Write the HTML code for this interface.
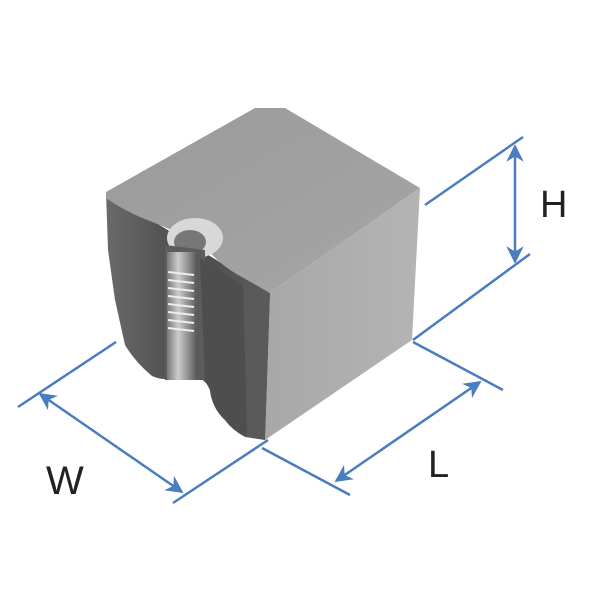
<!DOCTYPE html>
<html><head><style>
html,body{margin:0;padding:0;background:#fff;}
svg{display:block;}
text{font-family:"Liberation Sans",sans-serif;fill:#222;}
</style></head><body>
<svg width="600" height="600" viewBox="0 0 600 600">
<defs>
<linearGradient id="top" x1="0" y1="0" x2="1" y2="1">
<stop offset="0" stop-color="#9a9a9a"/><stop offset="1" stop-color="#a6a6a6"/></linearGradient>
<linearGradient id="right" x1="0" y1="0" x2="1" y2="0">
<stop offset="0" stop-color="#a8a8a8"/><stop offset="1" stop-color="#b4b4b4"/></linearGradient>
<linearGradient id="left" x1="0" y1="0" x2="1" y2="0">
<stop offset="0" stop-color="#6a6a6a"/><stop offset="0.5" stop-color="#4a4a4a"/><stop offset="1" stop-color="#5e5e5e"/></linearGradient>
<linearGradient id="coil" x1="0" y1="0" x2="1" y2="0">
<stop offset="0" stop-color="#777"/><stop offset="0.4" stop-color="#ccc"/><stop offset="1" stop-color="#666"/></linearGradient>
<marker id="ar" viewBox="0 0 10 10" refX="9" refY="5" markerWidth="7" markerHeight="7" orient="auto-start-reverse">
<path d="M0,0 L10,5 L0,10 L3,5 Z" fill="#4a7cc0"/></marker>
</defs>
<!-- left face -->
<path d="M106,192 L270,293 L265,440 L245,437 Q232,430 225,420 Q212,408 210,390 Q206,380 198,378 L175,378 Q163,381 152,376 Q135,362 125,345 L115,300 L108,250 Z" fill="url(#left)"/>
<!-- top face -->
<path d="M106,192 L255,108 L285,108 L420,188 L270,293 L240,276 Q215,262 205,245 L160,225 Q125,212 106,198 Z" fill="url(#top)"/>
<path d="M270,293 L420,188 L412,340 L265,440 Z" fill="url(#right)"/>
<path d="M243,285 L270,293 L265,440 L247,436 Z" fill="#5a5a5a"/>
<!-- hole top -->
<ellipse cx="195" cy="238" rx="28" ry="20" fill="#d8d8d8"/>
<ellipse cx="190" cy="242" rx="16" ry="12" fill="#777"/>
<path d="M165,245 L205,250 L205,380 L165,380 Z" fill="#5c5c5c"/>
<rect x="167" y="252" width="28" height="128" fill="url(#coil)"/>
<g stroke="#eee" stroke-width="2">
<line x1="168" y1="272" x2="194" y2="275"/><line x1="168" y1="280" x2="194" y2="283"/>
<line x1="168" y1="288" x2="194" y2="291"/><line x1="168" y1="296" x2="194" y2="299"/>
<line x1="168" y1="304" x2="194" y2="307"/><line x1="168" y1="312" x2="194" y2="315"/>
<line x1="168" y1="320" x2="194" y2="323"/><line x1="168" y1="328" x2="194" y2="331"/>
</g>
<path d="M200,258 L243,285 L247,436 Q232,430 225,420 Q212,408 210,390 L205,380 Z" fill="#4e4e4e"/>
<!-- dimension lines -->
<g stroke="#4a7cc0" stroke-width="2.5" fill="none">
<line x1="425" y1="205" x2="523" y2="137"/>
<line x1="413" y1="340" x2="530" y2="254"/>
<line x1="515" y1="146" x2="515" y2="262" marker-start="url(#ar)" marker-end="url(#ar)"/>
<line x1="116" y1="342" x2="18" y2="407"/>
<line x1="268" y1="440" x2="173" y2="503"/>
<line x1="40" y1="394" x2="182" y2="492" marker-start="url(#ar)" marker-end="url(#ar)"/>
<line x1="262" y1="448" x2="350" y2="495"/>
<line x1="413" y1="342" x2="503" y2="390"/>
<line x1="336" y1="481" x2="480" y2="382" marker-start="url(#ar)" marker-end="url(#ar)"/>
</g>
<text x="540" y="217" font-size="38">H</text>
<text x="46" y="494" font-size="40">W</text>
<text x="428" y="477" font-size="38">L</text>
</svg>
</body></html>
